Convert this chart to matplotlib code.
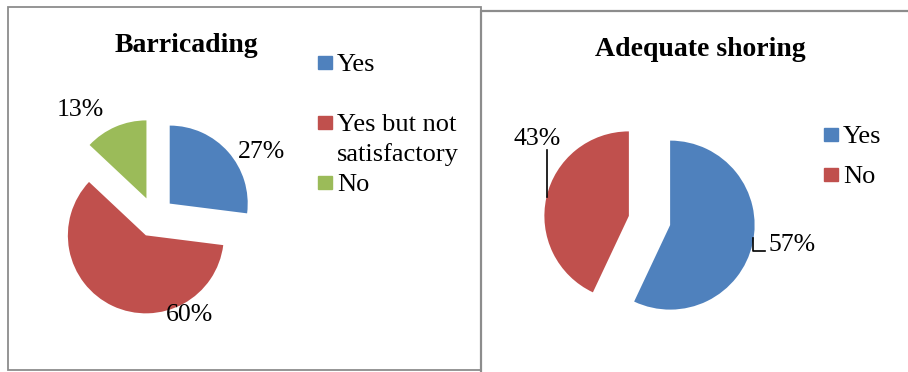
import matplotlib.pyplot as plt
from matplotlib.patches import Rectangle

plt.rcParams["font.family"] = ["Liberation Serif", "DejaVu Serif"]

W, H = 908, 372

# data
barr_labels = ["Yes", "Yes but not\nsatisfactory", "No"]
barr_values = [27, 60, 13]
shor_labels = ["Yes", "No"]
shor_values = [57, 43]
colors = ["#4F81BD", "#C0504D", "#9BBB59"]


def fx(x):
    return x / W


def fy(y):
    return 1 - y / H


def pie_axes(fig, cx, cy, side):
    ax = fig.add_axes([fx(cx - side / 2), fy(cy + side / 2), side / W, side / H])
    ax.axis("off")
    return ax


def fix_scale(ax, r, side):
    # 1 data unit = r pixels, set after pie() since pie resets the limits
    lim = side / 2 / r
    ax.set_xlim(-lim, lim)
    ax.set_ylim(-lim, lim)
    ax.set_aspect("equal")


fig = plt.figure(figsize=(W / 100, H / 100), dpi=100)

# chart frames
fig.add_artist(Rectangle((fx(8), fy(370)), fx(481) - fx(8), fy(7) - fy(370),
                         transform=fig.transFigure, fill=False,
                         edgecolor="#8c8c8c", linewidth=1.3))
fig.add_artist(Rectangle((fx(481), fy(390)), fx(930) - fx(481), fy(11) - fy(390),
                         transform=fig.transFigure, fill=False,
                         edgecolor="#8c8c8c", linewidth=1.6, clip_on=False))

# ---- Barricading ----
ax1 = pie_axes(fig, 154.5, 217, 300)
ax1.pie(barr_values, colors=colors, startangle=90, counterclock=False,
        explode=[0.26] * 3, radius=1, wedgeprops=dict(linewidth=0))
fix_scale(ax1, 78, 300)
barr_pos = [(1.378, 0.83), (0.455, -1.26), (-0.955, 1.37)]
for v, (x, y) in zip(barr_values, barr_pos):
    ax1.text(x, y, f"{v}%", fontsize=18.5, ha="center", va="center")
fig.text(fx(186), fy(46), "Barricading", fontsize=20, fontweight="bold",
         ha="center", va="center")

legend1_y = [63, 123, 183]
for lab, c, y in zip(barr_labels, colors, legend1_y):
    fig.add_artist(Rectangle((fx(318), fy(y + 6)), 14 / W, 13 / H,
                             transform=fig.transFigure, color=c))
    fig.text(fx(337), fy(y - 9), lab, fontsize=19, ha="left", va="top",
             linespacing=1.4)

# ---- Adequate shoring ----
ax2 = pie_axes(fig, 649.5, 220.5, 320)
ax2.pie(shor_values, colors=colors[:2], startangle=90, counterclock=False,
        explode=[0.25] * 2, radius=1, wedgeprops=dict(linewidth=0))
fix_scale(ax2, 84.5, 320)
shor_pos = [(1.686, -0.29), (-1.331, 0.965)]
for v, (x, y) in zip(shor_values, shor_pos):
    ax2.text(x, y, f"{v}%", fontsize=18.5, ha="center", va="center")
# leader lines
ax2.plot([1.219, 1.219, 1.361], [-0.207, -0.361, -0.361], color="black", lw=1.2)
ax2.plot([-1.213, -1.213], [0.834, 0.278], color="black", lw=1.2)
fig.text(fx(700), fy(50), "Adequate shoring", fontsize=20, fontweight="bold",
         ha="center", va="center")

legend2_y = [135, 175]
for lab, c, y in zip(shor_labels, colors[:2], legend2_y):
    fig.add_artist(Rectangle((fx(824), fy(y + 6)), 14 / W, 13 / H,
                             transform=fig.transFigure, color=c))
    fig.text(fx(843), fy(y - 9), lab, fontsize=19, ha="left", va="top")

fig.savefig("out.png", dpi=100)
